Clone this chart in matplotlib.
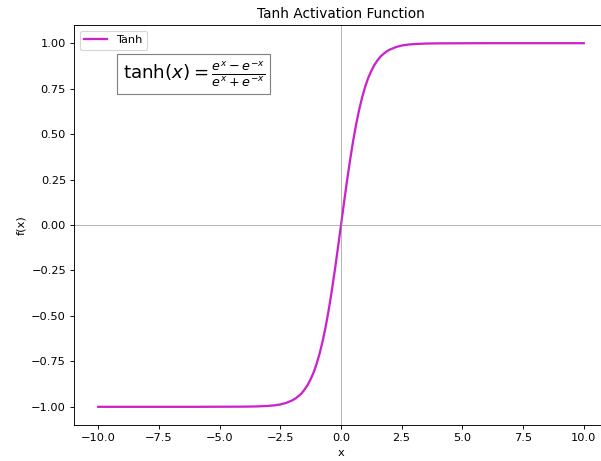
import matplotlib.pyplot as plt

# values
x_vals = [-10.0, -6.0, -4.0, -3.5, -3.0, -2.75, -2.5, -2.25, -2.0, -1.875, -1.75, -1.625,
          -1.5, -1.375, -1.25, -1.125, -1.0, -0.875, -0.75, -0.625, -0.5, -0.375, -0.25,
          -0.125, 0.0, 0.125, 0.25, 0.375, 0.5, 0.625, 0.75, 0.875, 1.0, 1.125, 1.25,
          1.375, 1.5, 1.625, 1.75, 1.875, 2.0, 2.25, 2.5, 2.75, 3.0, 3.5, 4.0, 6.0, 10.0]
y_vals = [-1.0, -1.0, -0.999, -0.998, -0.995, -0.992, -0.987, -0.978, -0.964, -0.954,
          -0.941, -0.926, -0.905, -0.880, -0.848, -0.810, -0.762, -0.704, -0.635, -0.555,
          -0.462, -0.358, -0.245, -0.124, 0.0, 0.124, 0.245, 0.358, 0.462, 0.555, 0.635,
          0.704, 0.762, 0.810, 0.848, 0.880, 0.905, 0.926, 0.941, 0.954, 0.964, 0.978,
          0.987, 0.992, 0.995, 0.998, 0.999, 1.0, 1.0]
x_ticks = [-10.0, -7.5, -5.0, -2.5, 0.0, 2.5, 5.0, 7.5, 10.0]

DPI = 82
fig = plt.figure(figsize=(601 / DPI, 461 / DPI), dpi=DPI)
ax = fig.add_axes([74 / 601, 36 / 461, 534 / 601, 400 / 461])

ax.plot(x_vals, y_vals, color='#cc22cc', linewidth=2, label='Tanh')
ax.axhline(0, color='gray', linewidth=0.5)
ax.axvline(0, color='gray', linewidth=0.5)

ax.set_xlim(-11, 11)
ax.set_ylim(-1.1, 1.1)
ax.set_xticks(x_ticks)
ax.set_title('Tanh Activation Function')
ax.set_xlabel('x')
ax.set_ylabel('f(x)')
ax.legend(loc='upper left')

ax.text(-9.0, 0.83, r'$\tanh(x) = \frac{e^x - e^{-x}}{e^x + e^{-x}}$', fontsize=16,
        ha='left', va='center',
        bbox=dict(facecolor='white', edgecolor='gray', boxstyle='square,pad=0.3'))

fig.savefig('out.png', dpi=DPI)
